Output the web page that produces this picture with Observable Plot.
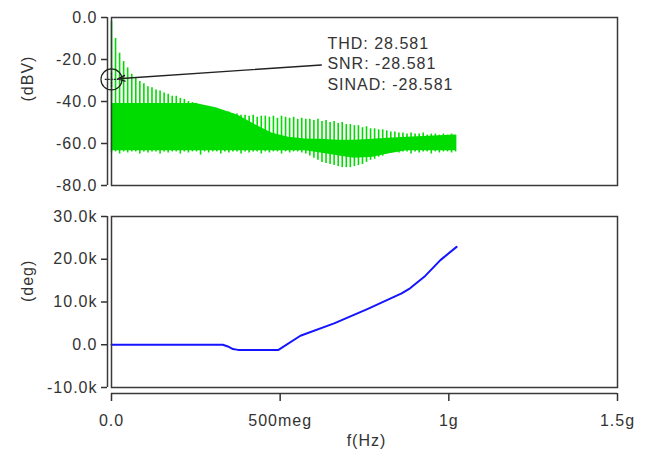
<!DOCTYPE html>
<html><head><meta charset="utf-8">
<script src="https://cdn.jsdelivr.net/npm/d3@7"></script>
<script src="https://cdn.jsdelivr.net/npm/@observablehq/plot@0.6"></script>
<style>
body{margin:0;background:#fff;}
#chart svg{display:block;}
</style></head><body><div id="chart"></div>
<script>
// ---- data ----
const spikeFreqMHz = [0,12,24,36,48,60,72,84,96,108,120,132,144,156,168,180,192,204,216,228,240,252,264,276,288,300,312,324,336,348,360,372,384,396,408,420,432,444,456,468,480,492,504,516,528,540,552,564,576,588,600,612,624,636,648,660,672,684,696,708,720,732,744,756,768,780,792,804,816,828,840,852,864,876,888,900,912,924,936,948,960,972,984,996,1008,1020];
const spikePeakDb = [-2,-10,-17,-21,-24,-27,-29,-30.5,-31.5,-33,
  -33.5,-34.5,-35,-36,-36.5,-37.5,-37.5,-38.5,-39,-40,
  -40.5,-41,-42,-42.5,-43.5,-43.5,-44.5,-44.5,-45.5,-45,
  -46,-46,-46.5,-46.5,-47,-46.5,-47.5,-47,-47,-47.5,
  -47,-48,-47,-47.5,-48,-47.5,-48.5,-48,-48.5,-48.5,
  -49,-48.5,-49.5,-49,-50,-49.5,-50.5,-50,-51,-51,
  -51.5,-51.5,-52.5,-52,-53,-53,-53.5,-53.5,-54,-54.5,
  -54.5,-55,-55,-55.5,-55,-55.5,-55.5,-55,-56,-55.5,
  -55.5,-56,-55.5,-56,-55.5,-56];
const spikeLowDb = [-64.5,-64,-65,-64,-64.5,-64,-64,-65,-64,-64.5,
  -64,-64,-65,-64,-64.5,-64,-64,-65,-64,-64.5,
  -64,-64,-65.5,-64,-64.5,-64,-64,-65,-64,-64.5,
  -64,-64,-65,-64,-64.5,-64,-64,-65,-64,-64.5,
  -64,-64,-65,-64,-64.5,-64,-64,-64.5,
  -65,-66,-67,-68,-69,-69.5,-70,-70.5,-71,-71.5,-71.5,-71.5,-71,-70.5,-70,-69,-68,-67.5,-66.5,-66,-65,-64.5,-64,
  -64.5,-64,-64,-65,-64,-64.5,-64,-64,-65,-64,-64.5,-64,-64,-64.5,-64];
const bandFreqMHz = [0,250,310,375,425,475,525,575,620,675,720,775,820,875,1020];
const bandTopDb = [-41,-41,-43,-46.5,-51,-55,-57,-57.8,-58,-58.5,-58.5,-58,-57.5,-57,-56];
const bandBottomDb = [-63.5,-63.5,-63.5,-63.5,-63.5,-63.5,-63.5,-63.5,-64.5,-66,-67,-66.5,-65,-63.5,-63.5];
const phaseFreqMHz = [0,330,345,360,375,495,560,660,760,860,885,930,975,1023];
const phaseDeg = [0,0,-400,-1000,-1200,-1200,2100,5000,8400,12000,13200,16100,19800,22900];

const xTicks = [0, 500e6, 1e9, 1.5e9];
const xTickLabels = ["0.0", "500meg", "1g", "1.5g"];
const dbTicks = [0, -20, -40, -60, -80];
const dbTickLabels = ["0.0", "-20.0", "-40.0", "-60.0", "-80.0"];
const degTicks = [30000, 20000, 10000, 0, -10000];
const degTickLabels = ["30.0k", "20.0k", "10.0k", "0.0", "-10.0k"];
const annotationLines = ["THD: 28.581", "SNR: -28.581", "SINAD: -28.581"];

// ---- tables ----
const spikes = spikeFreqMHz.map((f, i) => ({f: f * 1e6, lo: spikeLowDb[i], hi: spikePeakDb[i]}));
const band = bandFreqMHz.map((f, i) => ({f: f * 1e6, lo: bandBottomDb[i], hi: bandTopDb[i]}));
const phase = phaseFreqMHz.map((f, i) => ({f: f * 1e6, deg: phaseDeg[i]}));

const GREEN = "#00dc00", BLUE = "#1414ff", AX = "#3a3a3a", TXT = "#333";
const style = {fontFamily: "'Liberation Sans', Arial, sans-serif", fontSize: "16px", letterSpacing: "1px", color: TXT, background: "#fff", overflow: "visible"};

const topChart = Plot.plot({
  width: 648, height: 200, marginTop: 17, marginBottom: 15, marginLeft: 111, marginRight: 31,
  style,
  x: {domain: [0, 1.5e9], axis: null},
  y: {domain: [-80, 0], axis: null},
  marks: [
    Plot.areaY(band, {x: "f", y1: "lo", y2: "hi", fill: GREEN, curve: "linear"}),
    Plot.ruleX(spikes, {x: "f", y1: "lo", y2: "hi", stroke: GREEN, strokeWidth: 1.6}),
    Plot.frame({stroke: AX, strokeWidth: 1.5}),
    Plot.ruleX([0], {dx: -4, stroke: AX, strokeWidth: 1.5}),
    Plot.axisY({ticks: dbTicks, tickFormat: d => dbTickLabels[dbTicks.indexOf(d)], tickSize: 6, tickPadding: 4, dx: -4, label: null, strokeWidth: 1.5}),
    Plot.text(["(dBV)"], {frameAnchor: "left", dx: -84, rotate: -90, text: d => d}),
    Plot.dot([{x: 0, y: -29.5}], {x: "x", y: "y", r: 10.5, stroke: "#222", fill: "none", strokeWidth: 1.2}),
    Plot.link([{x1: -20e6, x2: 20e6, y1: -29.5, y2: -29.5}, {x1: 0, x2: 0, y1: -33, y2: -26}],
      {x1: "x1", x2: "x2", y1: "y1", y2: "y2", stroke: "#222", strokeWidth: 1.2, strokeDasharray: "2,1"}),
    Plot.arrow([{x1: 622e6, y1: -22.6, x2: 19e6, y2: -29.2}], {x1: "x1", y1: "y1", x2: "x2", y2: "y2", stroke: "#222", strokeWidth: 1.4, headLength: 8, headAngle: 45}),
    Plot.text([annotationLines.join("\n")], {x: () => 640e6, y: () => -7.9, text: d => d, textAnchor: "start", lineAnchor: "top", lineHeight: 1.28})
  ]
});

const bottomChart = Plot.plot({
  width: 648, height: 258, marginTop: 16, marginBottom: 71, marginLeft: 111, marginRight: 31,
  style,
  x: {domain: [0, 1.5e9], axis: null},
  y: {domain: [-10000, 30000], axis: null},
  marks: [
    Plot.line(phase, {x: "f", y: "deg", stroke: BLUE, strokeWidth: 2}),
    Plot.frame({stroke: AX, strokeWidth: 1.5}),
    Plot.ruleX([0], {dx: -4, stroke: AX, strokeWidth: 1.5}),
    Plot.axisY({ticks: degTicks, tickFormat: d => degTickLabels[degTicks.indexOf(d)], tickSize: 6, tickPadding: 4, dx: -4, label: null, strokeWidth: 1.5}),
    Plot.ruleY([-10000], {dy: 6, stroke: AX, strokeWidth: 1.5}),
    Plot.axisX({ticks: xTicks, tickFormat: d => xTickLabels[xTicks.indexOf(d)], tickSize: 8, tickPadding: 13, dy: 6, label: null, strokeWidth: 1.5}),
    Plot.text(["(deg)"], {frameAnchor: "left", dx: -84, rotate: -90, text: d => d}),
    Plot.text(["f(Hz)"], {frameAnchor: "bottom", dy: 58, dx: 2, text: d => d})
  ]
});

const root = document.getElementById("chart");
root.appendChild(topChart);
root.appendChild(bottomChart);
</script></body></html>
